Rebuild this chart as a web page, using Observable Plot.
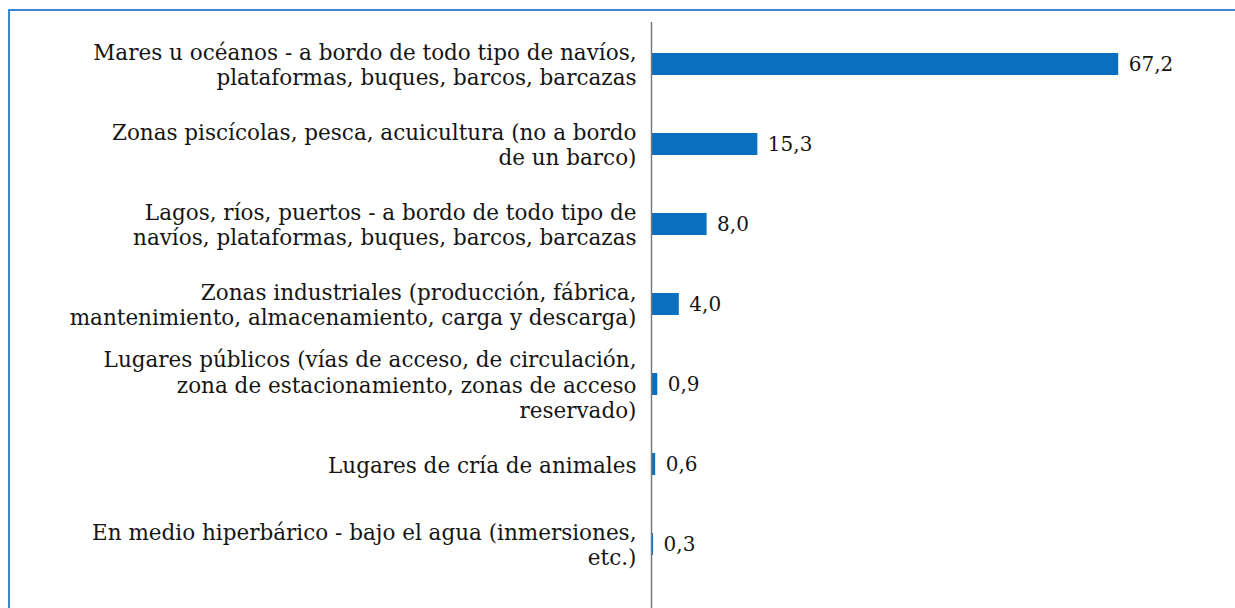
<!DOCTYPE html>
<html>
<head>
<meta charset="utf-8">
<script src="https://cdn.jsdelivr.net/npm/d3@7"></script>
<script src="https://cdn.jsdelivr.net/npm/@observablehq/plot@0.6"></script>
<style>
  html, body { margin: 0; padding: 0; background: #fff; }
  #wrap { position: relative; width: 1235px; height: 608px; overflow: hidden; }
  #frame { position: absolute; left: 8px; top: 9px; width: 1240px; height: 620px;
           border-top: 2px solid #3d85d0; border-left: 2px solid #3d85d0; box-sizing: border-box; }
  #chart { position: absolute; left: 0; top: 0; }
</style>
</head>
<body>
<div id="wrap"><div id="frame"></div><div id="chart"></div></div>
<script>
const categories = [
  "Mares u océanos - a bordo de todo tipo de navíos,\nplataformas, buques, barcos, barcazas",
  "Zonas piscícolas, pesca, acuicultura (no a bordo\nde un barco)",
  "Lagos, ríos, puertos - a bordo de todo tipo de\nnavíos, plataformas, buques, barcos, barcazas",
  "Zonas industriales (producción, fábrica,\nmantenimiento, almacenamiento, carga y descarga)",
  "Lugares públicos (vías de acceso, de circulación,\nzona de estacionamiento, zonas de acceso\nreservado)",
  "Lugares de cría de animales",
  "En medio hiperbárico - bajo el agua (inmersiones,\netc.)"
];
const values = [67.2, 15.3, 8.0, 4.0, 0.9, 0.6, 0.3];
const valueLabels = ["67,2", "15,3", "8,0", "4,0", "0,9", "0,6", "0,3"];

const data = categories.map((c, i) => ({cat: c, value: values[i], label: valueLabels[i]}));
const font = "'DejaVu Serif', serif";

const chart = Plot.plot({
  width: 1235,
  height: 608,
  marginLeft: 651,
  marginRight: 0,
  marginTop: 23,
  marginBottom: 24,
  style: {fontFamily: font, background: "transparent"},
  x: {domain: [0, 84], axis: null},
  y: {domain: categories, padding: 0, axis: null},
  marks: [
    Plot.barX(data, {x: "value", y: "cat", fill: "#0a6fbf", insetTop: 29, insetBottom: 29}),
    Plot.ruleX([0], {stroke: "#7a7a7a", strokeWidth: 1.5, insetTop: -1, insetBottom: -24}),
    Plot.text(data, {x: 0, y: "cat", text: "cat", textAnchor: "end", dx: -15,
      fontSize: 21.5, lineHeight: 1.17, fill: "#151515", lineAnchor: "middle"}),
    Plot.text(data, {x: "value", y: "cat", text: "label", textAnchor: "start", dx: 10,
      fontSize: 20, fill: "#151515"})
  ]
});
document.getElementById("chart").appendChild(chart);
</script>
</body>
</html>
